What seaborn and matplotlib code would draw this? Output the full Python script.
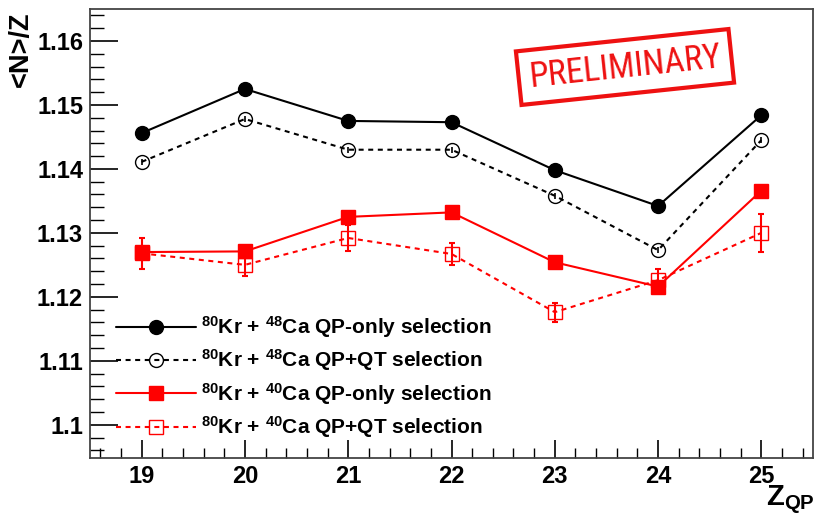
import numpy as np
import pandas as pd
import seaborn as sns
import matplotlib
matplotlib.use("Agg")
import matplotlib.pyplot as plt
from matplotlib.lines import Line2D
from matplotlib.ticker import MultipleLocator

# ---- data ----
z_qp = [19, 20, 21, 22, 23, 24, 25]
kr48_qp_only = [1.1456, 1.1525, 1.1475, 1.1473, 1.1398, 1.1342, 1.1484]
kr48_qp_qt = [1.1411, 1.1478, 1.1430, 1.1430, 1.1358, 1.1273, 1.1445]
kr40_qp_only = [1.1270, 1.1271, 1.1325, 1.1332, 1.1254, 1.1216, 1.1366]
kr40_qp_qt = [1.1268, 1.1250, 1.1292, 1.1267, 1.1176, 1.1226, 1.1300]
kr40_qp_qt_err = [0.0024, 0.0017, 0.0020, 0.0017, 0.0015, 0.0017, 0.0030]
kr48_qp_qt_err = [0.0005, 0.0005, 0.0005, 0.0005, 0.0005, 0.0005, 0.0005]
labels = [r"$^{80}$Kr + $^{48}$Ca QP-only selection",
          r"$^{80}$Kr + $^{48}$Ca QP+QT selection",
          r"$^{80}$Kr + $^{40}$Ca QP-only selection",
          r"$^{80}$Kr + $^{40}$Ca QP+QT selection"]

sns.set_theme(style="white")
plt.rcParams['font.family'] = ['Liberation Sans', 'DejaVu Sans']
plt.rcParams['font.weight'] = 'bold'
plt.rcParams['text.color'] = 'black'
plt.rcParams['axes.labelcolor'] = 'black'
plt.rcParams['xtick.color'] = 'black'
plt.rcParams['ytick.color'] = 'black'
plt.rcParams['mathtext.fontset'] = 'custom'
plt.rcParams['mathtext.rm'] = 'Liberation Sans:bold'
plt.rcParams['mathtext.bf'] = 'Liberation Sans:bold'
plt.rcParams['mathtext.it'] = 'Liberation Sans:bold'
plt.rcParams['mathtext.default'] = 'rm'

fig = plt.figure(figsize=(8.14, 5.17), dpi=100)
ax = fig.add_axes([90/814, 1-458/517, (813-90)/814, (458-9)/517])

LW = 1.5
series = [
    (kr48_qp_only, 'black', '-', 'o', 'black'),
    (kr48_qp_qt, 'black', (0, (2.4, 2.2)), 'o', 'none'),
    (kr40_qp_only, 'red', '-', 's', 'red'),
    (kr40_qp_qt, 'red', (0, (2.4, 2.2)), 's', 'none'),
]

ax.errorbar(z_qp, kr40_qp_qt, yerr=kr40_qp_qt_err, fmt='none', ecolor='red',
            elinewidth=LW, linestyle=(0, (2, 2)), capsize=2, capthick=LW, zorder=2)
ax.errorbar(z_qp, kr48_qp_qt, yerr=kr48_qp_qt_err, fmt='none', ecolor='black',
            elinewidth=1.2, capsize=0, zorder=2)

handles = []
for (vals, col, ls, mk, mfc), lab in zip(series, labels):
    df = pd.DataFrame({'z': z_qp, 'v': vals})
    sns.lineplot(data=df, x='z', y='v', ax=ax, color=col, linestyle=ls, lw=LW,
                 marker=mk, markersize=10,
                 markerfacecolor=mfc, markeredgecolor=col, markeredgewidth=1.0,
                 zorder=3)
    handles.append(Line2D([], [], color=col, linestyle=ls, lw=LW, marker=mk,
                          markersize=10, markerfacecolor=mfc,
                          markeredgecolor=col, markeredgewidth=1.0, label=lab))

ax.set_xlim(18.5, 25.5)
ax.set_ylim(1.0948, 1.165)
ax.xaxis.set_major_locator(MultipleLocator(1))
ax.xaxis.set_minor_locator(MultipleLocator(0.2))
ax.yaxis.set_minor_locator(MultipleLocator(0.002))
ax.set_yticks([1.10, 1.11, 1.12, 1.13, 1.14, 1.15, 1.16])
ax.set_yticklabels(['1.1', '1.11', '1.12', '1.13', '1.14', '1.15', '1.16'])
ax.tick_params(axis='both', which='both', direction='in', colors='black',
               labelsize=17, top=False, right=False, left=True, bottom=True)
ax.tick_params(axis='y', which='major', length=20, width=1.2, pad=5)
ax.tick_params(axis='y', which='minor', length=10, width=1.0)
ax.tick_params(axis='x', which='major', length=13, width=1.2, pad=5)
ax.tick_params(axis='x', which='minor', length=7, width=1.0)
for lab in ax.get_xticklabels() + ax.get_yticklabels():
    lab.set_fontweight('bold')
for s in ax.spines.values():
    s.set_color('#444444')
    s.set_linewidth(1.3)
ax.set_xlabel('')
ax.set_ylabel('')

leg = ax.legend(handles=handles, loc='lower left', bbox_to_anchor=(0.025, 0.021),
                frameon=False, fontsize=15, handlelength=3.8, labelspacing=0.36,
                handletextpad=0.25, borderaxespad=0)

fig.text(21/814, 1-49/517, '<N>/Z', rotation=90, ha='center', va='center',
         fontsize=19.5, fontweight='bold')
fig.text(790/814, 1-500/517, r'Z$_{\mathrm{QP}}$', ha='center', va='center',
         fontsize=21, fontweight='bold')

# PRELIMINARY stamp
fig.text(625/814, 1-67/517, 'PRELIMINARY', rotation=6, ha='center', va='center',
         fontsize=25, color='#ee1111',
         family=['Liberation Sans Narrow', 'Roboto Condensed', 'DejaVu Sans'],
         fontweight='normal',
         bbox=dict(boxstyle='square,pad=0.3', facecolor='none',
                   edgecolor='#ee1111', linewidth=3))

fig.savefig('out.png', dpi=100)
